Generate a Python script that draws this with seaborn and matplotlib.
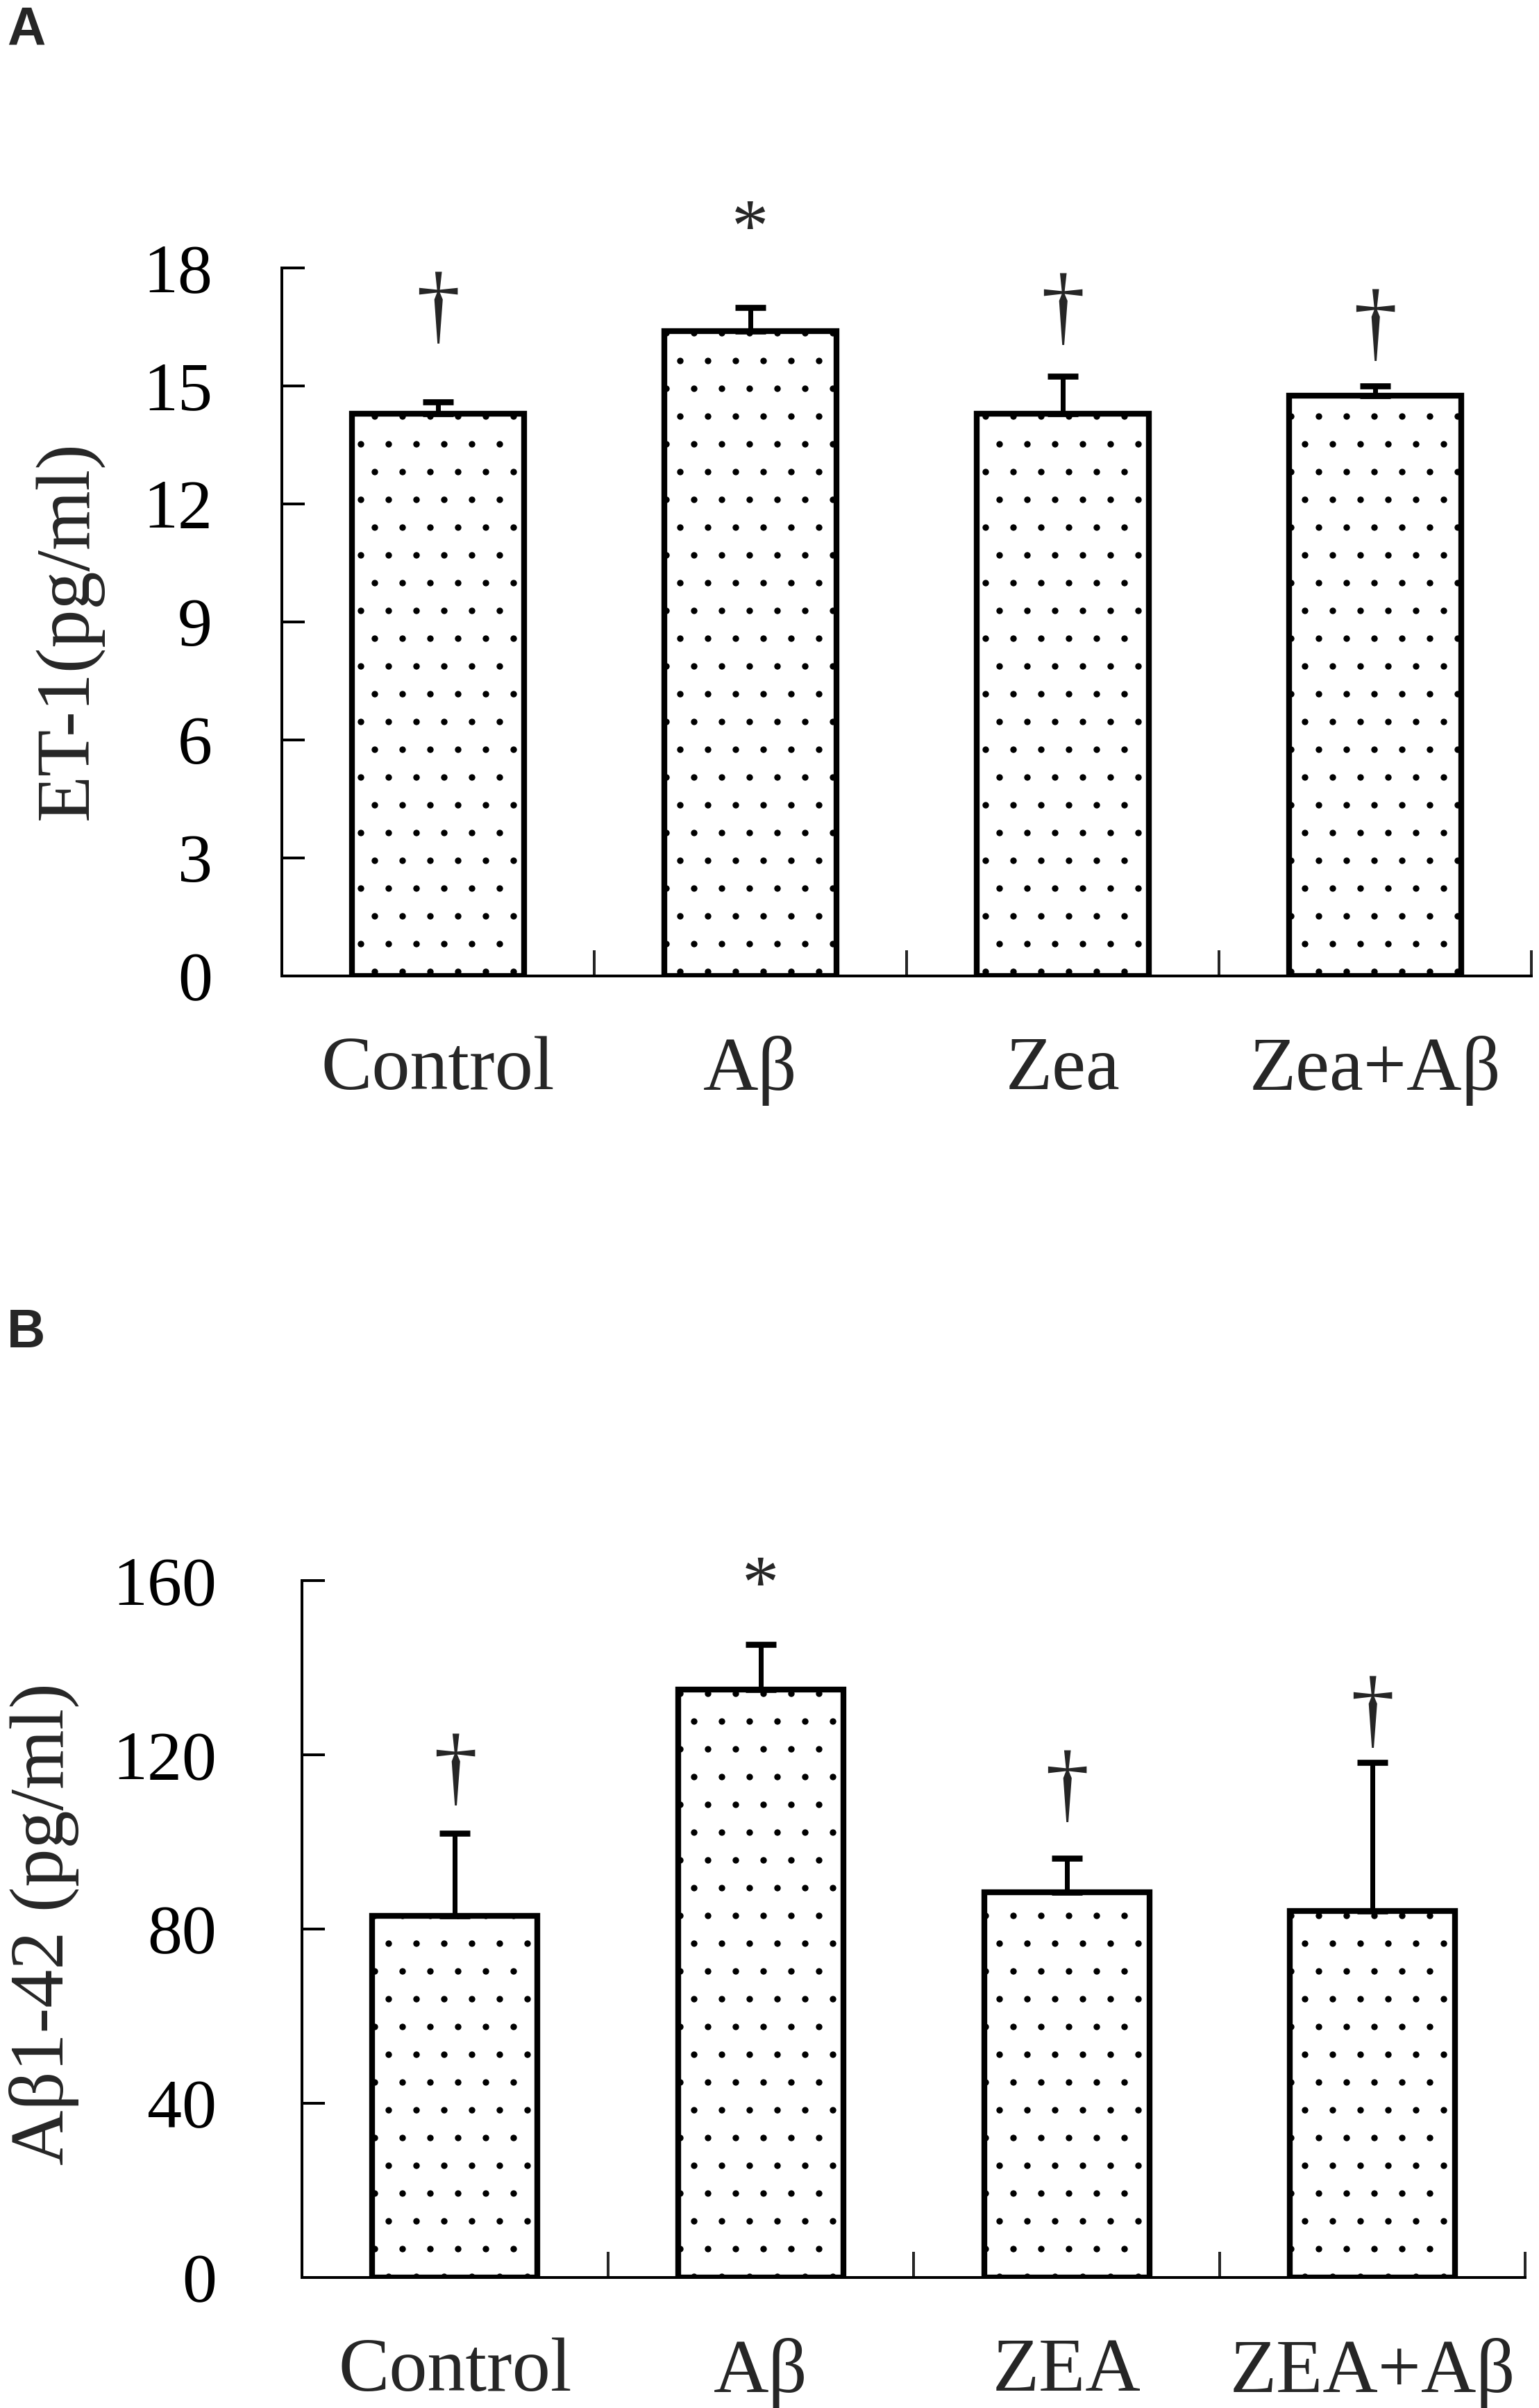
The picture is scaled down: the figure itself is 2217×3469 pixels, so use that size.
import numpy as np
import matplotlib
matplotlib.use("Agg")
import matplotlib.pyplot as plt
import seaborn as sns

# Panel A: ET-1
groups_a = ["Control", "Aβ", "Zea", "Zea+Aβ"]
et1_mean = [14.3, 16.4, 14.3, 14.75]
et1_err = [0.3, 0.6, 0.95, 0.25]
et1_marks = ["†", "*", "†", "†"]
et1_mark_y = [16.35, 18.45, 16.3, 15.9]

# Panel B: Abeta1-42
groups_b = ["Control", "Aβ", "ZEA", "ZEA+Aβ"]
ab_mean = [83.0, 135.0, 88.5, 84.2]
ab_err = [19.0, 10.3, 7.8, 34.0]
ab_marks = ["†", "*", "†", "†"]
ab_mark_y = [110.8, 154.0, 107.0, 124.0]

DPI = 240
sns.set_style("ticks")
plt.rcParams["font.family"] = ["Liberation Serif", "DejaVu Serif"]
plt.rcParams["hatch.linewidth"] = 0.4
plt.rcParams["hatch.color"] = "black"


def draw_panel(ax, groups, means, errs, marks, mark_y, ymax, ystep, ylabel,
               ytick_pad, label_x, label_y, bar_width):
    sns.barplot(x=groups, y=means, ax=ax, color="white", saturation=1,
                edgecolor="black", linewidth=2.5, hatch=".", width=bar_width,
                errorbar=None)
    x = np.arange(len(groups))
    ax.errorbar(x, means, yerr=[np.zeros(len(means)), errs], fmt="none",
                ecolor="black", elinewidth=2.1, capsize=6.5, capthick=2.6,
                zorder=3)
    for i in range(len(groups)):
        size = 32 if marks[i] == "*" else 38
        ax.text(x[i], mark_y[i], marks[i], ha="center", va="baseline",
                fontsize=size, clip_on=False)

    ax.set_xlim(-0.5, len(groups) - 0.5)
    ax.set_ylim(0, ymax)
    ax.set_yticks(np.arange(0, ymax + 1, ystep))
    ax.set_xticks(x + 0.5, minor=True)
    ax.tick_params(axis="y", direction="in", length=10, width=1.2,
                   pad=ytick_pad, labelsize=30, colors="black")
    ax.tick_params(axis="x", which="major", length=0, pad=26, labelsize=33)
    ax.tick_params(axis="x", which="minor", direction="in", length=11,
                   width=1.2)
    sns.despine(ax=ax)
    for side in ["left", "bottom"]:
        ax.spines[side].set_linewidth(1.2)
        ax.spines[side].set_color("black")
    ax.set_xlabel("")
    ax.set_ylabel(ylabel, fontsize=33)
    ax.yaxis.set_label_coords(label_x, label_y)


fig = plt.figure(figsize=(2217 / DPI, 3469 / DPI), dpi=DPI)
fig.patch.set_facecolor("white")

ax_a = fig.add_axes([0.1831, 0.5948, 0.8119, 0.2939])
draw_panel(ax_a, groups_a, et1_mean, et1_err, et1_marks, et1_mark_y,
           18, 3, "ET-1(pg/ml)", 30, -0.142, 0.488, 0.55)

ax_b = fig.add_axes([0.1962, 0.0542, 0.7950, 0.2894])
draw_panel(ax_b, groups_b, ab_mean, ab_err, ab_marks, ab_mark_y,
           160, 40, "Aβ1-42 (pg/ml)", 37, -0.182, 0.507, 0.54)

fig.text(10 / 2217, 1 - 64 / 3469, "A", ha="left", va="baseline",
         fontsize=23, fontweight="bold", family="Liberation Sans")
fig.text(10 / 2217, 1 - 1941 / 3469, "B", ha="left", va="baseline",
         fontsize=23, fontweight="bold", family="Liberation Sans")

fig.savefig("out.png", dpi=DPI, facecolor="white")
